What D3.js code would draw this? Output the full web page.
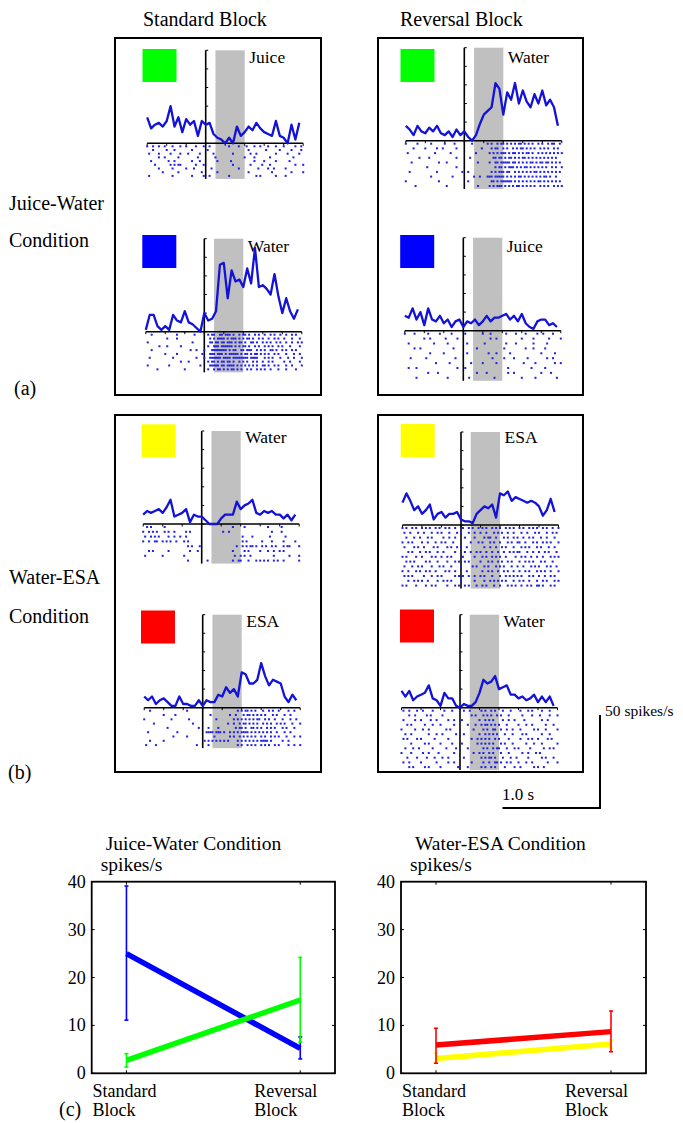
<!DOCTYPE html>
<html><head><meta charset="utf-8">
<script src="https://cdn.jsdelivr.net/npm/d3@7"></script>
<style>
body{margin:0;background:#fff}
svg{display:block}
text{font-family:'Liberation Serif','Times New Roman',serif;fill:#000}
</style>
</head><body>
<svg id="fig" width="683" height="1123"></svg>
<script>
// ---------------- DATA ----------------
// PSTH bins (s): first bin start and bin width
const BIN_START = -0.6, BIN_WIDTH = 0.04;
// Raster resolution: one character per 20 ms from -0.6 s ('*' = spike, spaces are only for readability)
const RASTER_START = -0.6, RASTER_BIN = 0.02;
const CUE_WINDOW = [0.1, 0.4];           // grey taste-delivery window (s)
const RATE_TICKS = [0, 10, 20, 30, 40, 50];
const TIME_TICKS = [-0.6, -0.4, -0.2, 0, 0.2, 0.4, 0.6, 0.8, 1.0];

// (a) Juice-Water condition PSTHs (spikes/s)
const psthJW_StdGreen = [14,8,10,11,9,12,20,9,14,6, 13,10,12,4,12,10,11,5,3,2, 0,3,0,9,4,6,9,7,11,8, 6,5,4,12,4,3,0,10,2,11];
const psthJW_StdBlue  = [1,9,9,3,1,3,1,9,6,5, 11,5,4,2,0,10,6,7,11,36, 37,18,33,27,28,24,34,26,45,24, 25,23,20,31,19,10,18,11,7,12];
const psthJW_RevGreen = [8,6,3,8,5,4,7,5,8,4, 3,5,2,6,3,5,2,0,3,9, 14,16,18,31,28,14,26,22,31,20, 27,21,18,25,20,27,19,22,18,8];
const psthJW_RevBlue  = [8,7,12,6,10,3,12,6,5,8, 4,6,2,5,6,2,5,4,6,3, 5,8,5,7,7,8,9,6,8,5, 9,4,2,1,5,6,6,3,4,2];
// (b) Water-ESA condition PSTHs (spikes/s)
const psthWE_StdYellow = [5,7,6,7,8,6,9,13,4,5, 6,8,1,5,4,4,2,0,0,0, 3,5,5,5,12,8,10,11,13,6, 5,7,6,7,5,5,3,5,2,5];
const psthWE_RevYellow = [12,17,13,8,10,6,8,11,3,6, 7,4,6,6,7,3,2,2,1,6, 8,10,9,11,4,17,16,18,13,15, 14,13,12,13,12,10,5,8,14,7];
const psthWE_StdRed    = [6,4,6,2,4,5,3,1,1,6, 2,2,1,1,4,1,4,3,3,7, 6,11,8,10,6,19,18,13,13,15, 24,17,12,15,14,13,6,3,7,4];
const psthWE_RevRed    = [9,6,9,4,6,7,8,12,5,4, 1,8,5,5,1,0,2,1,1,3, 8,15,13,14,17,10,11,12,7,7, 5,6,4,5,7,3,6,3,6,1];

const rasJW_StdGreen = [
"*..*..*..* ...*...*.. *....*...* ..*....... ..*....*.. .*...*..*. ..*...*... *.....*..* .",
"...*...... *...*..... ...*...... .*........ .......... ..*....... .*......*. ....*....* .",
".*....*... ..*....*.. .*.....*.. ....*..... ....*..... ...*..*... ......*... ..*.....*. .",
"......*..* ......*... ......*... .....*.... .......... *....*.... ...*...... .....*.... .",
"..*....... .*..*..... ...*...*.. ......*... ...*...... .....*.... *.....*... ...*...... .",
"....*..... ..*.*.**.. .....*...* .......... ....*..... ...*.....* ...*...... ......*... *",
"......*... ...*...... *...*..... ...*...... .......*.. .......*.. ..*..*.... .*........ .",
"........*. ......*... ........*. ......*... .......... ..*....... ....*..... ....*..... *",
".*........ ...*...... ...*.....* ..*....... ..*....... ......*.*. ......*... .*........ ."];
const rasJW_StdBlue = [
"...*...... ......*... .....*.... ..*.**..** .***.*..*. **.*..*.*. .*..*.*..* ..*..*.*.. .",
".......... .*....*... .......... ...*.*.*** *.*.***.*. *.**.*..*. *..*..*.*. .*...*...* .",
".*........ .......... ....*..... ...**.**.* *.***.*.** .*..**.*.. *.*.*..*.* ..*..*..*. *",
".......*.. .*......*. .......... ..*..***.* *****.*.*. **.*..*.*. .*.*.*..*. *...*....* .",
"...*...... .......... ...*..*... *...****** **.*.**..* *.***..*.* .*..**.*.. *.*..*.*.. .",
".......... *.....*... .........* ...***.*** .*.*****.* .**.*.**.* .*.*..*.*. ..*...*..* .",
"..*....... ....*..... ......*... *..******. ****.***** ***.****.. .*.*.*...* ...*..*... *",
".......... ........*. ..*....... ..*.**.*.* *.**.*..*. *.*..*.*.. *..*.*.... .*..*....* .",
".*........ ..*....... ........*. ...*****.* *.****.*.* .*.*.*.*.. **.*..*.*. ..*..*.... *",
"......*... .......... *......... ..*..*.**. *.*.**.*.* ..*.*..*.* .*..*...*. ..*....*.. ."];
const rasJW_RevGreen = [
"*.....*... ...*...... *....*.... ....*..... ..*.*..*.* *.*.*.*.** .*.*.*..*. *..*.**..* .",
"....*..... *.....*..* ......*... .........* ....*.**.. *.*..*.*.* *.*.*.*..* .*.*..*.*. .",
".*........ .....*.... ...*...... ......*... ...*.*.*.* **.*.**.*. *.**.*..*. *.*.*.*.*. *",
".......*.. ..*....... ......*... ...*...... .....**.** .*.**.*.*. **.*.*.*.* .*.*.*.*.. .",
"...*...... .......*.. .*........ .......*.. ...*..**.* ****.**.*. *.*.**.*.* *.**.*.*.* .",
".......... .*........ ......*... .......... ......*.** .*.***.*.* .**.*.*.*. *.*..*.*.. *",
"..*....... ......*... .........* ..*....... ....*.*.** *.**..*.*. *.*.*.**.* .*.*.*.*.* .",
".......... ...*...... ....*..... .....*..*. ..***.**** *.*.*.*.** .*.*.*.*.* .**.*..*.. .",
"*......... .......*.. .......... ..*....... ....**.*.* *****.*.*. *.*.*.*.** .*.*.*.*.* .",
".....*.... .......... .*........ .......*.. ...*.*.*** .*.*.*.**. *.*.*.*..* .*.*..*.*. *"];
const rasJW_RevBlue = [
"*....*.... ..*.....*. ....*..... .*........ *...*..... ..*....*.. ..*.....*. .*....*... .",
".......... *..*...... .*.....*.. .......... ....*..*.. .......... *.....*... ....*..... *",
"..*....... .....*.... ..*....... ..*....... .*........ ..*....*.. ......*... ...*...... .",
".....*..*. .......... .....*.... .......*.. .......... .*........ ..*...*... ..*....... .",
".......... ...*...... *......... ..*....... ...*...*.. ....*..... .......... *......*.. .",
"...*...... .*........ ......*... .......... .....*.... .*....*... ...*...... ...*..*... .",
".......... ......*... ...*...... ....*..... *......*.. .......... .*.....*.. .......*.. *",
"..*...*... .......... .......*.. .*........ .......... ...*...... .....*.... ..*....... .",
".......... ..*....*.. .......... .......*.. ..*....... ...*..*... .......... *....*.... .",
"......*... .......... ..*....... ...*...... ......*... .......... *......*.. ........*. ."];
const rasWE_StdYellow = [
"..*.*..... .*........ .......... .......... ......*... ..*....... ....*..... .*........ .",
"*..*.*.*.. .*.*..*... ..*.*..... .......... .*..*..... .......... ......*... .*........ .",
".*..*.*.*. ...*..*..* ..*....... .......... .......... .*....*... .....*.... ...*...... .",
"*..*..**.. *.*.*..*.. .*.*...... .......... .......... .*.*...... .*....*... ..*.....*. .",
".......... .......... ...*.*...* .......... ........*. .*.*.**.*. .*.*..*.*. ..*.**.... *",
"...*.*.... ...*...... ....*...*. .......... ......*... ..*.*..... *...*..*.. *.*....... .",
".*........ *......... .*........ .......... .......*.. *.*..*.... .......*.. .....*.... *",
".......... .......... ...*...... ...*...... ......*..* *...*...*. *.*.*..*.* ..*....... *"];
const rasWE_RevYellow = [
"*.*..*.*.. *.*.*..*.* ..*.*..*.. .*..*.*..* .*.*..*.*. *..*.*.*.. *.*..*.*.* ..*.*..*.. *",
".*..*...*. .*...*..*. *...*...*. *...*..*.. *..*...*.* .*..*..*.. .*..*...*. *...*..*.* .",
"..*...*..* ...*.*.... .*..*..*.. ..*....*.. ..*.**..*. ..*.*..*.* ..*..*.*.. .*..*...*. .",
"*..*.*.... *..*...*.. *.*...*... .....*...* .*...*.*.. *...*.*..* *..*...*.* ..*.*.*... *",
".*....*.*. .*....*.*. ...*.*..*. *..*...... ..*..*..*. .*.*...*.. .*.*.*...* .*...*..*. .",
"...*.*...* ..*.*...*. .*.....*.. ..*..*..*. *..*..*..* ..*..*.*.* *...*..*.. *..*.*...* .",
"*.*....*.. *....*.*.. *..*.*.... .*.....*.. .*.*..*.*. *..*....*. .*.*..*..* ..*...*.*. *",
"..*.*.*... ..*.*...*. ...*...*.* ..*.*..... *...*.*..* .*..*.*... *..*.*.*.. .*.*...*.. .",
".*...*..*. *....*...* .*...*.... *.....*.*. ..*.*...*. *.*...*..* ..*...*.*. *...*.*..* .",
"*..*...*.* ..*.*..*.. ..*.*..*.. ...*...... .*..*.*..* ..*.*..*.. *..*.*...* .*.*..*... *",
".*.*.*.... .*...*..*. *......*.* .*..*..*.. *.*...*... *..*.*.*.* .*...*.*.. *..*..*.*. .",
"...*..*.*. *..*....*. .*.*.*.... *......*.. ..*..*.*.* .*.*...*.. *.*..*...* ..*.*...*. *",
"*.*....*.. ..*..*.*.. ...*...*.* ..*.*...*. .*.*...*.. *...*.*.*. .*..*.*..* *.*...*.*. ."];
const rasWE_StdRed = [
"...*...... .......... ..*....... .......... ........*. *.**.*.*.. .*..*.*..* ....*..*.. .",
".......... *.....*... .......... ....*..... ....*..*.. .*.**.*.*. *.*...*.*. ..*..*.... .",
"*......... ....*..... ...*...... .......*.. ......*.*. *.*.*.*.** ..*.*..*.. .*...*..*. .",
".....*.... .......... .....*.... .......... ...*..*..* .**.*.*.*. .*.*.*..*. *.*...*... *",
".......... ..*....... ........*. ...*....*. .......*.* *.*..**.*. *..*.*.*.. .*.*...*.. .",
"..*....... .......*.. .......... ..****.*** .*..*.*.*. ****.*.*.* .*.*.*..*. ..*..*.... .",
".......... .....*.... ..*....... ......*... ....*.*..* .*.*.*.*.. *.*..*.*.* ...*...*.. *",
"...*...... *......... .......... .*.*.*.*.* .*.*....*. *.*.*.*.*. ****.*.... .*..*..... .",
".*....*... .......... .......*.. ...*...... ........*. *..*.*.*.. *.*.*..*.* ....*..*.. *"];
const rasWE_RevRed = [
".*..*...*. .*....*... ..*...*... ..*..*.... .*.*..*.*. ..*...*... .*...*.*.. ..*...*... .",
"....*..*.. ...*.*.... .*........ ......*.*. ..*.*.*..* .*...*.... ..*....*.. .*....*... *",
".*.....*.. *....*..*. ....*..*.. .*........ *..*.*.*.. ..*..*..*. ...*...... ..*..*.... .",
"...*.*.... ..*...*... *......*.. ....*...*. .*.**.*.*. *...*..... *...*..*.. ....*...*. .",
"*......*.. .*..*..... ...*.*.... .......*.. ..*.*..**. .*..*..*.. .*......*. *...*..... *",
"..*..*.... ....*...*. .*......*. ..*....... *..*.*.*.* ...*...*.. ..*.*..... ..*...*... .",
".*.*....*. *......*.. ....*..... ......*..* .*.*.*..*. *....*.... .*...*.*.. *....*.*.. .",
".....*.... ..*.*..... *.....*... .*.......* .*.*.*.*.. .*.*...*.. ....*...*. ..*....... *",
"..*...*..* ......*... ...*....*. ....*..... ..*.*..*.* *...*...*. *.....*... ...*..*.*. .",
"*....*.... .*..*....* .......*.. .......*.. *.*..*.*.. .*...*.... ..*..*...* .*........ .",
"...*....*. ...*...*.. .*..*..... ..*....... .*.*.**.*. ..*...*..* .....*.... ..*.*...*. .",
".*..*..... *.......*. ....*..*.. ......*... ..*..*..** .*..*.*... *...*..*.. .....*.... *",
"....*.*... ..*.*..... *........* ....*..... .*.*..*.*. ...*....*. .*......*. *..*...... ."];

// (c) mean firing rates (spikes/s) with error-bar extents, per cue colour
const blockLabels = [["Standard","Block"],["Reversal","Block"]];
const jwBlueMean  = [25.0, 5.2];   const jwBlueErr  = [[11.1, 39.1], [3.0, 7.6]];
const jwGreenMean = [2.7, 15.3];   const jwGreenErr = [[1.3, 4.1], [6.5, 24.2]];
const weYellowMean = [3.1, 6.1];   const weYellowErr = [[2.2, 4.2], [5.3, 7.0]];
const weRedMean    = [5.9, 8.7];   const weRedErr    = [[2.1, 9.4], [4.5, 13.0]];
const rateTicksC = [0, 10, 20, 30, 40];

// ---------------- DRAWING ----------------
const svg = d3.select("#fig");
const PX_PER_S = 97.5, PX_PER_50 = 93;
const DOT = "#2020ea", LINE = "#1212d8";

function txt(x, y, s, size, anchor) {
  return svg.append("text").attr("x", x).attr("y", y).attr("font-size", size)
    .attr("text-anchor", anchor || "start").text(s);
}

txt(143, 26, "Standard Block", 20);
txt(400, 26, "Reversal Block", 20);
txt(9, 210, "Juice-Water", 20); txt(9, 247, "Condition", 20);
txt(14, 395, "(a)", 20);
txt(9, 584, "Water-ESA", 20); txt(9, 623, "Condition", 20);
txt(8, 779, "(b)", 20);

[[115, 38, 321, 395], [378, 38, 583, 395], [115, 415, 321, 772], [378, 415, 583, 772]].forEach(b => {
  svg.append("rect").attr("x", b[0]).attr("y", b[1]).attr("width", b[2] - b[0]).attr("height", b[3] - b[1])
    .attr("fill", "none").attr("stroke", "#000").attr("stroke-width", 2);
});

const units = [
  {zeroX: 205.7, axisY: 143.3, gap: 3.7,  sq: [142.5, 49],  color: "#00ff00", label: "Juice", labelY: 63,  psth: psthJW_StdGreen, raster: rasJW_StdGreen},
  {zeroX: 204.3, axisY: 331.7, gap: 3.85, sq: [142.3, 235], color: "#0000ff", label: "Water", labelY: 252, psth: psthJW_StdBlue,  raster: rasJW_StdBlue},
  {zeroX: 464.3, axisY: 140.7, gap: 4.7,  sq: [400.5, 49],  color: "#00ff00", label: "Water", labelY: 63,  psth: psthJW_RevGreen, raster: rasJW_RevGreen},
  {zeroX: 463.3, axisY: 330.7, gap: 4.9,  sq: [400.2, 235], color: "#0000ff", label: "Juice", labelY: 252, psth: psthJW_RevBlue,  raster: rasJW_RevBlue},
  {zeroX: 201.7, axisY: 524,   gap: 4.8,  sq: [141.7, 424.3], color: "#ffff00", label: "Water", labelY: 443, psth: psthWE_StdYellow, raster: rasWE_StdYellow},
  {zeroX: 461,   axisY: 525,   gap: 4.8,  sq: [400.7, 424], color: "#ffff00", label: "ESA",   labelY: 443, psth: psthWE_RevYellow, raster: rasWE_RevYellow},
  {zeroX: 202.7, axisY: 707.7, gap: 4.3,  sq: [141, 610.5], color: "#ff0000", label: "ESA",   labelY: 627, psth: psthWE_StdRed,    raster: rasWE_StdRed},
  {zeroX: 460,   axisY: 707.7, gap: 4.7,  sq: [400, 609.5], color: "#ff0000", label: "Water", labelY: 627, psth: psthWE_RevRed,    raster: rasWE_RevRed}
];

units.forEach(u => {
  const g = svg.append("g");
  const x = d3.scaleLinear().domain([-0.6, 1.0]).range([u.zeroX - 0.6 * PX_PER_S, u.zeroX + 1.0 * PX_PER_S]);
  const y = d3.scaleLinear().domain([0, 50]).range([u.axisY, u.axisY - PX_PER_50]);
  const rowY = i => u.axisY + 3 + i * u.gap;
  const bottom = rowY(u.raster.length - 1) + 3;

  g.append("rect").attr("x", x(CUE_WINDOW[0])).attr("y", y(50))
    .attr("width", x(CUE_WINDOW[1]) - x(CUE_WINDOW[0])).attr("height", bottom - y(50)).attr("fill", "#c0c0c0");
  g.append("rect").attr("x", u.sq[0]).attr("y", u.sq[1]).attr("width", 34).attr("height", 33).attr("fill", u.color);
  g.append("text").attr("x", x(CUE_WINDOW[1]) + 4.5).attr("y", u.labelY).attr("font-size", 17.5).text(u.label);

  g.append("line").attr("x1", x(0)).attr("x2", x(0)).attr("y1", y(50)).attr("y2", bottom)
    .attr("stroke", "#000").attr("stroke-width", 1.6);
  g.selectAll(".yt").data(RATE_TICKS).enter().append("line")
    .attr("x1", x(0)).attr("x2", x(0) + 2.5).attr("y1", d => y(d)).attr("y2", d => y(d))
    .attr("stroke", "#000").attr("stroke-width", 1);
  g.append("line").attr("x1", x(-0.6)).attr("x2", x(1.0)).attr("y1", y(0)).attr("y2", y(0))
    .attr("stroke", "#000").attr("stroke-width", 1.6);
  g.selectAll(".xt").data(TIME_TICKS).enter().append("line")
    .attr("x1", d => x(d)).attr("x2", d => x(d)).attr("y1", y(0)).attr("y2", y(0) + 2.5)
    .attr("stroke", "#000").attr("stroke-width", 1);

  const line = d3.line().x((d, i) => x(BIN_START + i * BIN_WIDTH)).y(d => y(d));
  g.append("path").datum(u.psth).attr("d", line).attr("fill", "none")
    .attr("stroke", LINE).attr("stroke-width", 2.3).attr("stroke-linejoin", "round");

  u.raster.forEach((rowStr, r) => {
    const row = rowStr.replace(/ /g, "");
    const spikes = [];
    for (let j = 0; j < row.length; j++) if (row[j] === "*") spikes.push(RASTER_START + j * RASTER_BIN);
    g.selectAll(null).data(spikes).enter().append("rect")
      .attr("x", d => x(d) - 1).attr("y", rowY(r) - 1).attr("width", 2).attr("height", 2).attr("fill", DOT);
  });
});

// scale bar
{
  const yB = d3.scaleLinear().domain([0, 50]).range([808, 808 - PX_PER_50]);
  const xB = d3.scaleLinear().domain([0, 1]).range([600 - PX_PER_S, 600]);
  svg.append("path").attr("d", `M${xB(0)},${yB(0)}H${xB(1)}V${yB(50)}`)
    .attr("fill", "none").attr("stroke", "#000").attr("stroke-width", 2);
  txt(605, 716, "50 spikes/s", 15.5);
  txt(502, 800, "1.0 s", 17);
}

// (c) summary charts
function chart(o) {
  const g = svg.append("g");
  const x = d3.scalePoint().domain([0, 1]).range([o.left, o.right]).padding(0.2);
  const y = d3.scaleLinear().domain([0, 40]).range([1073.3, 881.7]);
  g.append("rect").attr("x", o.left).attr("y", y(40)).attr("width", o.right - o.left).attr("height", y(0) - y(40))
    .attr("fill", "none").attr("stroke", "#000").attr("stroke-width", 1.8);
  rateTicksC.forEach(v => {
    g.append("line").attr("x1", o.left).attr("x2", o.left + 3).attr("y1", y(v)).attr("y2", y(v)).attr("stroke", "#000");
    g.append("line").attr("x1", o.right).attr("x2", o.right - 3).attr("y1", y(v)).attr("y2", y(v)).attr("stroke", "#000");
    g.append("text").attr("x", o.left - 6).attr("y", y(v) + 6).attr("font-size", 18).attr("text-anchor", "end").text(v);
  });
  [0, 1].forEach(c => {
    g.append("line").attr("x1", x(c)).attr("x2", x(c)).attr("y1", y(0)).attr("y2", y(0) - 3).attr("stroke", "#000");
    g.append("line").attr("x1", x(c)).attr("x2", x(c)).attr("y1", y(40)).attr("y2", y(40) + 3).attr("stroke", "#000");
    const dx = c === 0 ? -34 : -46;
    g.append("text").attr("x", x(c) + dx).attr("y", 1097).attr("font-size", 18).text(blockLabels[c][0]);
    g.append("text").attr("x", x(c) + dx).attr("y", 1116).attr("font-size", 18).text(blockLabels[c][1]);
  });
  g.append("text").attr("x", o.left + 14).attr("y", 850).attr("font-size", 19.5).text(o.title);
  g.append("text").attr("x", o.left + 9).attr("y", 871).attr("font-size", 19.5).text("spikes/s");

  o.series.forEach(s => {
    g.append("path").datum(s.mean)
      .attr("d", d3.line().x((d, i) => x(i)).y(d => y(d)))
      .attr("stroke", s.color).attr("stroke-width", 5.5).attr("fill", "none");
    s.err.forEach((e, i) => {
      g.append("line").attr("x1", x(i)).attr("x2", x(i)).attr("y1", y(e[0])).attr("y2", y(e[1]))
        .attr("stroke", s.color).attr("stroke-width", 1.6);
      e.forEach(v => g.append("line").attr("x1", x(i) - 2).attr("x2", x(i) + 2).attr("y1", y(v)).attr("y2", y(v))
        .attr("stroke", s.color).attr("stroke-width", 1.6));
    });
  });
}
chart({left: 91.7, right: 335, title: "Juice-Water Condition",
  series: [{mean: jwBlueMean, err: jwBlueErr, color: "#0000ff"}, {mean: jwGreenMean, err: jwGreenErr, color: "#00ff00"}]});
chart({left: 401, right: 646, title: "Water-ESA Condition",
  series: [{mean: weYellowMean, err: weYellowErr, color: "#ffff00"}, {mean: weRedMean, err: weRedErr, color: "#ff0000"}]});
txt(59, 1116, "(c)", 20);
</script>
</body></html>
